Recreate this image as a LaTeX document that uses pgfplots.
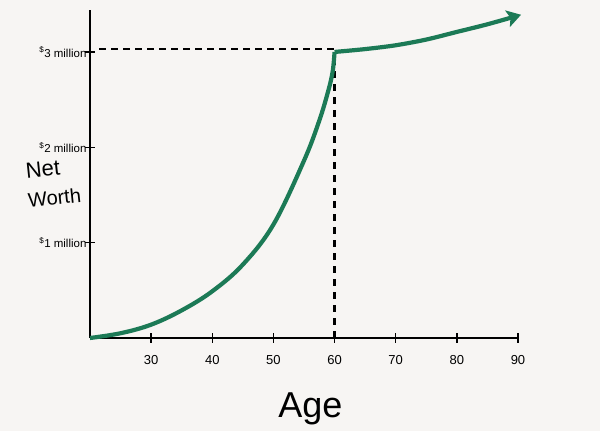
\documentclass[border=0pt]{standalone}
\usepackage{pgfplots}
\pgfplotsset{compat=1.18}
\usepackage{fontspec}
\setmainfont{Liberation Sans}
\usetikzlibrary{arrows.meta}
\definecolor{bgc}{RGB}{247,245,243}
\definecolor{grn}{RGB}{28,122,86}
\begin{document}
\begin{tikzpicture}
\fill[bgc] (-90pt,-93pt) rectangle (510pt,338pt);
\begin{axis}[
  at={(0,0)}, anchor=south west,
  width=428pt, height=328pt, scale only axis,
  xmin=20, xmax=90, ymin=0, ymax=3.44,
  axis x line=bottom, axis y line=left,
  axis line style={-, line width=1.8pt, black},
  xtick={30,40,50,60,70,80,90},
  ytick={1,2,3},
  yticklabels={\textsuperscript{\$}1 million,\textsuperscript{\$}2 million,\textsuperscript{\$}3 million},
  major tick length=10pt, tick align=center,
  tick style={line width=1.4pt, black},
  /pgf/number format/assume math mode=true,
  xticklabel style={font=\fontsize{13}{15}\selectfont, yshift=-9pt},
  yticklabel style={font=\fontsize{11.5}{13}\selectfont, xshift=5pt},
  clip=false,
]
\addplot[black, line width=2.2pt, dash pattern=on 7pt off 5pt] coordinates {(21.5,3.03) (60,3.03)};
\addplot[black, line width=2.2pt, dash pattern=on 7pt off 6pt] coordinates {(60,0) (60,3.0)};
\addplot[grn, line width=4.2pt, smooth, tension=0.6] coordinates {
 (20,0) (25,0.05) (30,0.14) (35,0.29) (40,0.49) (45,0.77) (50,1.19) (55,1.86) (57.5,2.28) (59,2.6) (59.7,2.8) (60,3.0)};
\addplot[grn, line width=4.2pt, smooth, -{Stealth[length=14pt,width=17pt,inset=3pt]}] coordinates {
 (60,3.0) (65,3.03) (70,3.07) (75,3.13) (80,3.21) (85,3.29) (90.5,3.39)};
\node[rotate=6, inner sep=0pt, font=\fontsize{22}{22}\selectfont] at (rel axis cs:-0.11,0.515) {Net};
\node[rotate=6, inner sep=0pt, font=\fontsize{20}{20}\selectfont] at (rel axis cs:-0.083,0.428) {Worth};
\node[font=\fontsize{36}{36}\selectfont] at (rel axis cs:0.515,-0.215) {Age};
\end{axis}
\pgfresetboundingbox
\path[use as bounding box] (-90pt,-93pt) rectangle (510pt,338pt);
\end{tikzpicture}
\end{document}
